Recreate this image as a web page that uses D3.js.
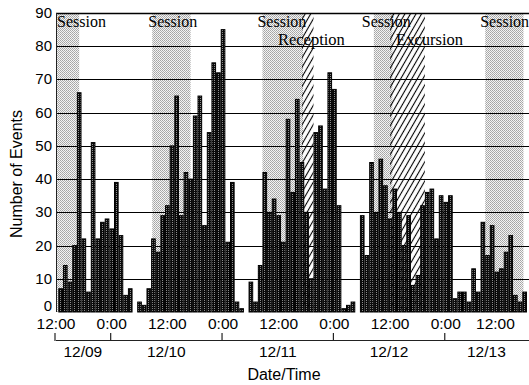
<!DOCTYPE html>
<html>
<head>
<meta charset="utf-8">
<script src="https://cdn.jsdelivr.net/npm/d3@7/dist/d3.min.js"></script>
<style>
  body { margin: 0; background: #fff; }
  svg { display: block; }
</style>
</head>
<body>
<svg id="chart" width="529" height="385"></svg>
<script>
// hourly event counts, 12/09 12:30 onward
const counts = [7, 14, 9, 20, 66, 22, 6, 51, 22, 27, 28, 25, 39, 23, 5, 7, 0, 3, 2, 7,
  22, 18, 29, 32, 50, 65, 29, 42, 40, 59, 65, 26, 54, 75, 72, 85, 21, 39, 3, 1,
  0, 9, 3, 14, 42, 30, 34, 29, 21, 58, 36, 64, 45, 30, 10, 54, 56, 37, 72, 67,
  32, 1, 2, 3, 0, 29, 17, 45, 30, 46, 38, 28, 37, 30, 20, 29, 8, 11, 32, 36,
  37, 22, 35, 33, 35, 4, 6, 6, 3, 13, 6, 27, 17, 26, 12, 13, 18, 23, 5, 3, 6];

const sessionBands = [
  { label: 'Session', from: '12/09 12:00', to: '12/09 17:00' },
  { label: 'Session', from: '12/10 08:45', to: '12/10 17:00' },
  { label: 'Session', from: '12/11 08:30', to: '12/11 17:15' },
  { label: 'Session', from: '12/12 08:30', to: '12/12 12:30' },
  { label: 'Session', from: '12/13 08:30', to: '12/13 16:45' }
];
const eventBands = [
  { label: 'Reception', from: '12/11 17:00', to: '12/11 19:30' },
  { label: 'Excursion', from: '12/12 12:00', to: '12/12 19:30' }
];
const dateLabels = ['12/09', '12/10', '12/11', '12/12', '12/13'];
const yTicks = [0, 10, 20, 30, 40, 50, 60, 70, 80, 90];

const parse = d3.timeParse('%m/%d %H:%M');
const START = parse('12/09 12:00');
const END = parse('12/13 18:30');
const BIN_OFFSET_MIN = 30;

const svg = d3.select('#chart');
const plotLeft = 56, plotTop = 13, plotBottom = 312;
const pxPerHour = 4.64;

const x = d3.scaleTime()
  .domain([START, END])
  .range([plotLeft, plotLeft + (END - START) / 36e5 * pxPerHour]);
const y = d3.scaleLinear().domain([0, 90]).range([plotBottom, plotTop]);

// patterns
const defs = svg.append('defs');
const dots = defs.append('pattern').attr('id', 'barfill')
  .attr('patternUnits', 'userSpaceOnUse').attr('width', 2).attr('height', 2);
dots.append('rect').attr('width', 2).attr('height', 2).attr('fill', '#0a0a0a');
dots.append('rect').attr('width', 1).attr('height', 1).attr('fill', '#8c8c8c');

const stipple = defs.append('pattern').attr('id', 'stipple')
  .attr('patternUnits', 'userSpaceOnUse').attr('width', 2).attr('height', 2);
stipple.append('rect').attr('width', 2).attr('height', 2).attr('fill', '#f4f4f4');
stipple.append('rect').attr('width', 1).attr('height', 1).attr('fill', '#a4a4a4');
stipple.append('rect').attr('x', 1).attr('y', 1).attr('width', 1).attr('height', 1).attr('fill', '#b0b0b0');

const hatch = defs.append('pattern').attr('id', 'hatch')
  .attr('patternUnits', 'userSpaceOnUse').attr('width', 4.8).attr('height', 10)
  .attr('patternTransform', 'rotate(30)');
hatch.append('line').attr('x1', 2.4).attr('x2', 2.4).attr('y1', 0).attr('y2', 10)
  .attr('stroke', '#000').attr('stroke-width', 1.1);

// shaded bands
svg.append('g').selectAll('rect')
  .data(sessionBands).enter().append('rect')
  .attr('x', d => x(parse(d.from)))
  .attr('width', d => x(parse(d.to)) - x(parse(d.from)))
  .attr('y', plotTop).attr('height', plotBottom - plotTop)
  .attr('fill', 'url(#stipple)');

svg.append('g').selectAll('rect')
  .data(eventBands).enter().append('rect')
  .attr('x', d => x(parse(d.from)))
  .attr('width', d => x(parse(d.to)) - x(parse(d.from)))
  .attr('y', plotTop).attr('height', plotBottom - plotTop)
  .attr('fill', 'url(#hatch)');

// gridlines
svg.append('g').selectAll('line')
  .data(yTicks.filter(v => v > 0)).enter().append('line')
  .attr('x1', plotLeft).attr('x2', 529)
  .attr('y1', d => Math.round(y(d)) + 0.5).attr('y2', d => Math.round(y(d)) + 0.5)
  .attr('stroke', '#000').attr('stroke-width', d => d === 90 ? 1.4 : 1);

// bars
const binStart = i => d3.timeMinute.offset(d3.timeHour.offset(START, i), BIN_OFFSET_MIN);
svg.append('g').selectAll('rect')
  .data(counts.map((v, i) => ({ v, i })).filter(d => d.v > 0)).enter().append('rect')
  .attr('x', d => x(binStart(d.i)) + 0.5)
  .attr('width', d => x(binStart(d.i + 1)) - x(binStart(d.i)) - 1)
  .attr('y', d => y(d.v))
  .attr('height', d => plotBottom - y(d.v))
  .attr('fill', 'url(#barfill)')
  .attr('stroke', '#000').attr('stroke-width', 1);

// left axis line
svg.append('line').attr('x1', plotLeft + 0.5).attr('x2', plotLeft + 0.5)
  .attr('y1', plotTop).attr('y2', plotBottom).attr('stroke', '#222').attr('stroke-width', 1);

// band labels
const serif = '"Liberation Serif", "Times New Roman", serif';
const sessionDx = [1, -4, -5, -12, -5];
svg.append('g').selectAll('text')
  .data(sessionBands).enter().append('text')
  .attr('x', (d, i) => x(parse(d.from)) + sessionDx[i])
  .attr('y', 27)
  .attr('font-family', serif).attr('font-size', 16)
  .text(d => d.label);

const eventDx = [-24, 6];
svg.append('g').selectAll('text')
  .data(eventBands).enter().append('text')
  .attr('x', (d, i) => x(parse(d.from)) + eventDx[i])
  .attr('y', 44.5)
  .attr('font-family', serif).attr('font-size', 16.5)
  .text(d => d.label);

const sans = '"Liberation Sans", Arial, Helvetica, sans-serif';

// y tick labels
svg.append('g').selectAll('text')
  .data(yTicks).enter().append('text')
  .attr('x', 52).attr('y', d => y(d) + (d === 0 ? -1 : 5))
  .attr('text-anchor', 'end')
  .attr('font-family', sans).attr('font-size', 15)
  .text(d => d);

svg.append('text')
  .attr('transform', 'translate(22,174) rotate(-90)')
  .attr('text-anchor', 'middle')
  .attr('font-family', sans).attr('font-size', 16)
  .text('Number of Events');

// time ticks
const timeTicks = d3.timeHour.every(12).range(START, END);
const fmt = d3.timeFormat('%-H:%M');
svg.append('g').selectAll('text')
  .data(timeTicks).enter().append('text')
  .attr('x', (d, i) => x(d) + (i === timeTicks.length - 1 ? -6 : 0))
  .attr('y', 329)
  .attr('text-anchor', 'middle')
  .attr('font-family', sans).attr('font-size', 15.5)
  .text(d => fmt(d));

// date bracket
const midnights = d3.timeDay.range(START, END);
const bounds = [START, ...midnights, END];
svg.append('line').attr('x1', x(START)).attr('x2', 529)
  .attr('y1', 340.5).attr('y2', 340.5).attr('stroke', '#222').attr('stroke-width', 1.2);
svg.append('g').selectAll('line')
  .data([START, ...midnights]).enter().append('line')
  .attr('x1', d => x(d) - 1).attr('x2', d => x(d) - 1)
  .attr('y1', 333).attr('y2', 341)
  .attr('stroke', '#222').attr('stroke-width', 1.2);
svg.append('g').selectAll('text')
  .data(dateLabels).enter().append('text')
  .attr('x', (d, i) => (x(bounds[i]) + Math.min(x(bounds[i + 1]), 529)) / 2 - 1)
  .attr('y', 357)
  .attr('text-anchor', 'middle')
  .attr('font-family', sans).attr('font-size', 15.5)
  .text(d => d);

svg.append('text')
  .attr('x', 284).attr('y', 380)
  .attr('text-anchor', 'middle')
  .attr('font-family', sans).attr('font-size', 16)
  .text('Date/Time');
</script>
</body>
</html>
